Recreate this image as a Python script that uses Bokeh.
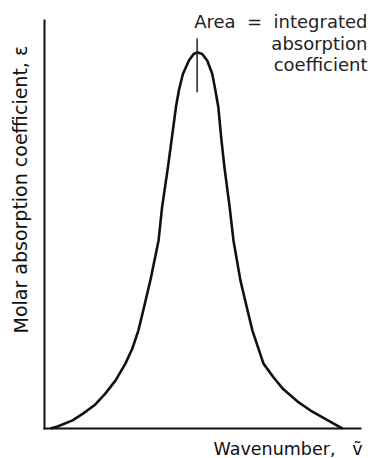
from bokeh.plotting import figure
from bokeh.models import Range1d, Label
from bokeh.embed import file_html
from bokeh.resources import INLINE

# Absorption band (arbitrary units, 0-100)
wavenumber = [1.9, 4.1, 8.9, 12.3, 16.1, 19.3, 22.5, 25.6, 27.8, 29.7, 31.6, 33.5, 36.1, 37.2,
              39.0, 40.2, 41.6, 42.5, 43.8, 45.7, 47.2, 48.3, 49.9, 51.5, 53.1, 54.1, 55.0,
              56.0, 57.0, 58.6, 59.8, 62.0, 63.9, 65.8, 69.3, 72.5, 75.6, 80.1, 84.2, 88.0,
              91.5, 94.3]
epsilon = [0.0, 0.5, 2.0, 3.7, 5.9, 8.6, 11.8, 15.9, 19.6, 24.0, 30.1, 36.3, 46.1, 54.2,
           63.7, 70.6, 78.8, 82.8, 86.9, 90.2, 91.8, 92.2, 91.8, 90.2, 86.9, 82.8, 78.8,
           70.6, 63.7, 54.2, 46.1, 36.3, 30.1, 24.0, 15.9, 12.5, 9.6, 6.6, 4.4, 2.7,
           1.2, 0.0]

# axis extents (data units)
axis_min = 0
axis_max = 100

peak_x = [48.3]
marker_bottom = [82.4]
marker_top = [95.6]

NB = "\u00a0"
y_label = "Molar absorption coefficient, ε"
x_label = "Wavenumber," + NB * 3 + "ṽ"
note_lines = ["Area" + NB * 2 + "=" + NB * 2 + "integrated", "absorption", "coefficient"]

FONT = "DejaVu Sans"
W, H = 371, 458

# frame covers the whole canvas; data 0..100 mapped to px 44..360 and 428..20
p = figure(width=W, height=H, output_backend="svg", toolbar_location=None,
           x_axis_location=None, y_axis_location=None,
           x_range=Range1d(-13.924, 103.481), y_range=Range1d(-7.353, 104.902),
           min_border=0)
p.outline_line_color = None
p.grid.visible = False
p.background_fill_color = "white"
p.border_fill_color = "white"

# axes lines
p.segment(x0=[axis_min, axis_min], y0=[axis_min, axis_min],
          x1=[axis_max, axis_min], y1=[axis_min, axis_max],
          line_width=2, line_color="#111111", line_cap="square")

p.line(wavenumber, epsilon, line_width=2.6, line_color="#111111", line_join="round")
p.segment(x0=peak_x, y0=marker_bottom, x1=peak_x, y1=marker_top,
          line_width=1.5, line_color="#222222")

# Y axis title (rotated)
p.add_layout(Label(x=20, y=H - 333, x_units="screen", y_units="screen", text=y_label,
                   angle=1.5708, text_align="left", text_baseline="middle",
                   text_font=FONT, text_font_size="19px", text_color="#111111"))
# X axis title
p.add_layout(Label(x=362, y=H - 448, x_units="screen", y_units="screen", text=x_label,
                   text_align="right", text_baseline="alphabetic",
                   text_font=FONT, text_font_size="17.5px", text_color="#111111"))
# Annotation
note_baselines = [21, 43, 64]
for t, yy in zip(note_lines, note_baselines):
    p.add_layout(Label(x=367, y=H - yy, x_units="screen", y_units="screen", text=t,
                       text_align="right", text_baseline="alphabetic",
                       text_font=FONT, text_font_size="18px", text_color="#222222"))

open("out.html", "w").write(file_html(p, INLINE))
